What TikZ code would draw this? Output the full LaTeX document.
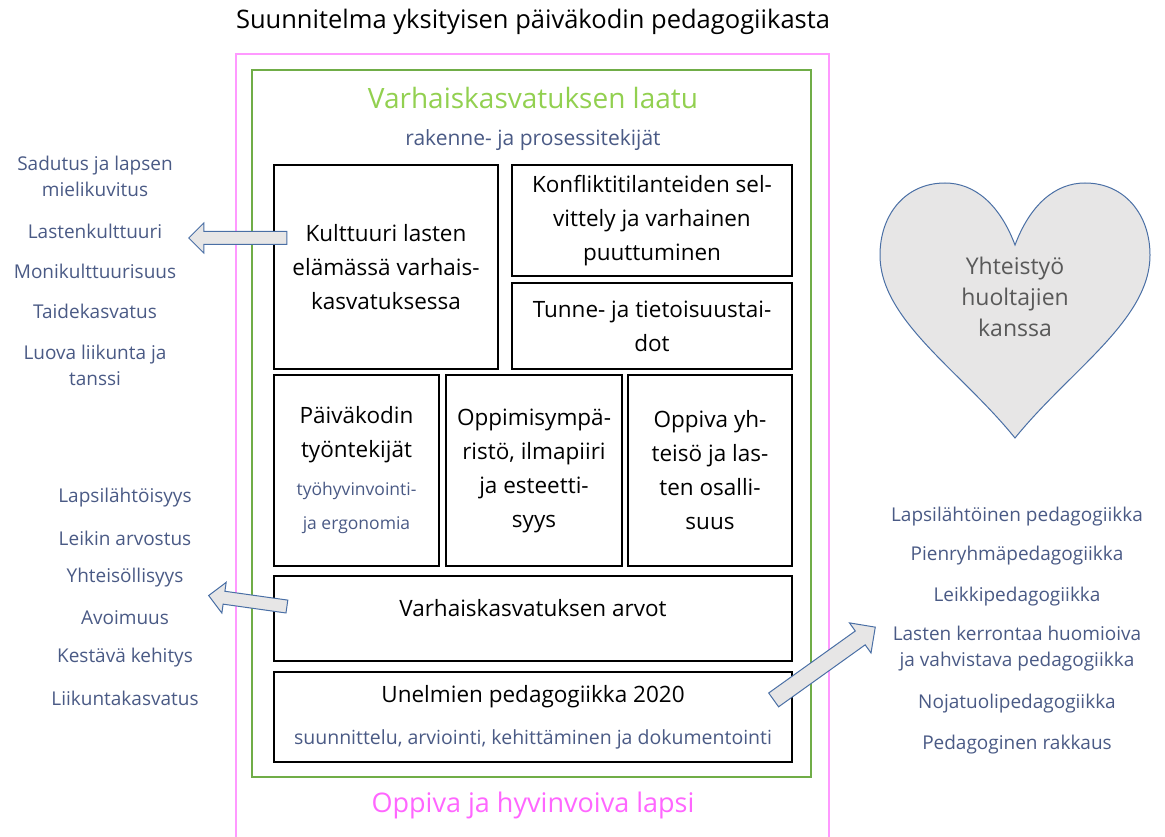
\documentclass[tikz,border=0pt]{standalone}
\usepackage{fontspec}
\setmainfont{Open Sans}
\usetikzlibrary{shapes.arrows}
\definecolor{pinkline}{HTML}{FF99FF}
\definecolor{pinktext}{HTML}{FF66FF}
\definecolor{greenline}{HTML}{70AD47}
\definecolor{greentext}{HTML}{92D050}
\definecolor{slate}{HTML}{4A5A85}
\definecolor{heartgrey}{HTML}{E7E6E6}
\definecolor{heartline}{HTML}{4A6FA5}
\definecolor{darkgrey}{HTML}{595959}

\begin{document}
\begin{tikzpicture}[x=1pt, y=-1pt,
    box/.style={draw, line width=1.2pt, align=center, inner sep=0pt, font=\fontsize{22.5}{34}\selectfont},
    sub/.style={text=slate, font=\fontsize{21}{30}\selectfont},
    listitem/.style={text=slate, align=center, font=\fontsize{19}{26}\selectfont},
    blockarrow/.style={single arrow, draw=heartline, fill=heartgrey, line width=1pt, single arrow head indent=0pt, inner xsep=0pt}]
      \useasboundingbox (0,0) rectangle (1165,837);
      \node[font=\fontsize{25.5}{30}\selectfont] (title) at (533,22) {Suunnitelma yksityisen päiväkodin pedagogiikasta};
      \draw[pinkline, line width=2pt] (236,837) -- (236,54) -- (829,54) -- (829,837);
      \draw[greenline, line width=2.5pt] (252,70) rectangle (811,777);
      \node[text=greentext, font=\fontsize{28}{32}\selectfont] (laatu) at (533,98) {Varhaiskasvatuksen laatu};
      \node[sub] (tekijat) at (533,140) {rakenne- ja prosessitekijät};
      \node[box, minimum width=224pt, minimum height=204pt] (kulttuuri) at (386,267) {Kulttuuri lasten\\elämässä varhais-\\kasvatuksessa};
      \node[box, minimum width=280pt, minimum height=111pt] (konfliktit) at (652,220.5) {Konfliktitilanteiden sel-\\vittely ja varhainen\\puuttuminen};
      \node[box, minimum width=280pt, minimum height=86pt] (tunne) at (652,326) {Tunne- ja tietoisuustai-\\dot};
      \node[box, minimum width=165pt, minimum height=191pt] (tyontekijat) at (356.5,470.5) {Päiväkodin\\työntekijät\\[4pt]\textcolor{slate}{\fontsize{17.5}{30}\selectfont työhyvinvointi-}\\\textcolor{slate}{\fontsize{17.5}{30}\selectfont ja ergonomia}};
      \node[box, minimum width=176pt, minimum height=191pt] (ymparisto) at (534,470.5) {Oppimisympä-\\ristö, ilmapiiri\\ja esteetti-\\syys};
      \node[box, minimum width=164pt, minimum height=191pt] (yhteiso) at (710,470.5) {Oppiva yh-\\teisö ja las-\\ten osalli-\\suus};
      \node[box, minimum width=518pt, minimum height=85pt] (arvot) at (533,618.5) {Varhaiskasvatuksen arvot\\[-12pt]};
      \node[box, minimum width=518pt, minimum height=90pt] (unelmat) at (533,717) {Unelmien pedagogiikka 2020\\[8pt]\textcolor{slate}{\fontsize{19.5}{30}\selectfont suunnittelu, arviointi, kehittäminen ja dokumentointi}};
      \node[text=pinktext, font=\fontsize{27}{32}\selectfont] (lapsi) at (533,805) {Oppiva ja hyvinvoiva lapsi};
      \draw[heartline, fill=heartgrey, line width=1pt] (1015,245) .. controls (1000,205) and (975,183) .. (945,183) .. controls (905,183) and (880,215) .. (880,255) .. controls (880,320) and (960,370) .. (1015,438) .. controls (1070,370) and (1150,320) .. (1150,255) .. controls (1150,215) and (1125,183) .. (1085,183) .. controls (1055,183) and (1030,205) .. (1015,245) -- cycle;
      \node[text=darkgrey, align=center, font=\fontsize{23}{31}\selectfont] (yhteistyo) at (1015,297) {Yhteistyö\\huoltajien\\kanssa};
      \node[listitem] (sadutus) at (95,176) {Sadutus ja lapsen\\mielikuvitus};
      \node[listitem] (lastenkulttuuri) at (95,231) {Lastenkulttuuri};
      \node[listitem] (monikulttuurisuus) at (95,271) {Monikulttuurisuus};
      \node[listitem] (taidekasvatus) at (95,311) {Taidekasvatus};
      \node[listitem] (liikunta) at (95,365) {Luova liikunta ja\\tanssi};
      \node[listitem] (lapsilahtoisyys) at (125,498) {Lapsilähtöisyys};
      \node[listitem] (leikki) at (125,538) {Leikin arvostus};
      \node[listitem] (yhteisollisyys) at (125,578) {Yhteisöllisyys};
      \node[listitem] (avoimuus) at (125,618) {Avoimuus};
      \node[listitem] (kestava) at (125,658) {Kestävä kehitys};
      \node[listitem] (liikuntakasvatus) at (125,698) {Liikuntakasvatus};
      \node[listitem] (lapsilahtoinen) at (1017,517) {Lapsilähtöinen pedagogiikka};
      \node[listitem] (pienryhma) at (1017,556) {Pienryhmäpedagogiikka};
      \node[listitem] (leikkiped) at (1017,597) {Leikkipedagogiikka};
      \node[listitem] (kerronta) at (1017,649) {Lasten kerrontaa huomioiva\\ja vahvistava pedagogiikka};
      \node[listitem] (nojatuoli) at (1017,704) {Nojatuolipedagogiikka};
      \node[listitem] (rakkaus) at (1017,745) {Pedagoginen rakkaus};
      \node[blockarrow, inner ysep=6pt, minimum height=98pt, minimum width=29pt, single arrow head extend=8.5pt, rotate=180] (nuoli1) at (241,238) {};
      \node[blockarrow, inner ysep=6pt, minimum height=79pt, minimum width=30pt, single arrow head extend=9pt, rotate=172] (nuoli2) at (251,601.5) {};
      \node[blockarrow, inner ysep=8pt, minimum height=125pt, minimum width=36pt, single arrow head extend=10pt, rotate=35.6] (nuoli3) at (821,666) {};
\end{tikzpicture}
\end{document}
